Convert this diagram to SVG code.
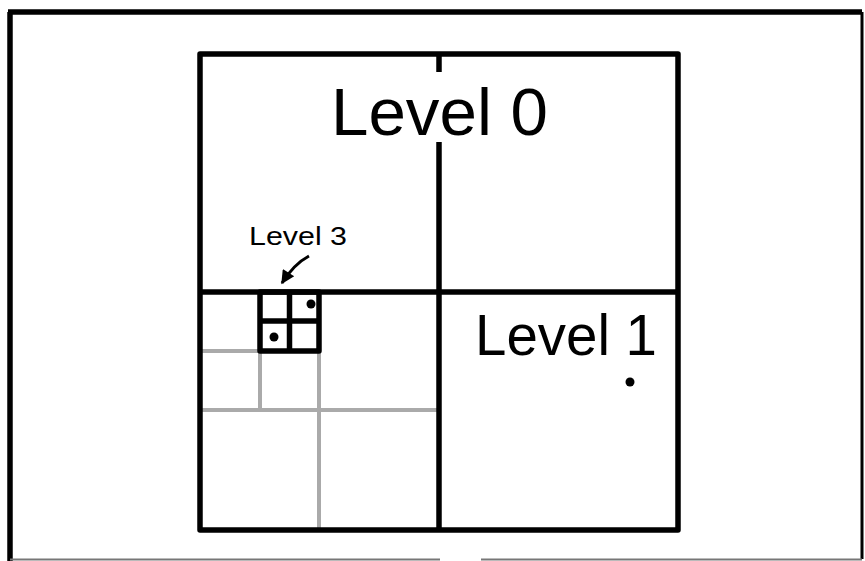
<svg xmlns="http://www.w3.org/2000/svg" width="865" height="561" viewBox="0 0 865 561">
<style>
.blk{fill:none;stroke:#000;stroke-width:5.5;stroke-linejoin:round;stroke-linecap:butt}
.gry{fill:none;stroke:#aaa;stroke-width:4}
.lbl{font-family:"Liberation Sans","DejaVu Sans",sans-serif;fill:#000}
.dot{fill:#000}
</style>
<defs>
<marker id="ah" viewBox="0 0 10 10" refX="9" refY="5" markerWidth="5.5" markerHeight="4.5" orient="auto" markerUnits="strokeWidth">
<path d="M0,0 L10,5 L0,10 z" fill="#000"/>
</marker>
</defs>
<rect width="865" height="561" fill="#fff"/>
<g id="frame">
<line x1="8" y1="12" x2="862" y2="12" stroke="#000" stroke-width="5.5"/>
<line x1="10" y1="12" x2="10" y2="561" stroke="#000" stroke-width="5.5"/>
<line x1="862" y1="12" x2="862" y2="559" stroke="#000" stroke-width="3"/>
<line x1="10" y1="559.5" x2="440" y2="559.5" stroke="#777" stroke-width="2"/>
<line x1="481" y1="559.5" x2="862" y2="559.5" stroke="#777" stroke-width="2"/>
</g>
<g id="grey-grid">
<line class="gry" x1="202" y1="351" x2="260" y2="351"/>
<line class="gry" x1="260" y1="351" x2="260" y2="410"/>
<line class="gry" x1="319" y1="351" x2="319" y2="528"/>
<line class="gry" x1="202" y1="410" x2="439" y2="410"/>
</g>
<g id="level0">
<rect class="blk" x="200" y="54" width="478" height="476"/>
<line class="blk" x1="439" y1="54" x2="439" y2="72"/>
<line class="blk" x1="439" y1="142" x2="439" y2="530"/>
<line class="blk" x1="200" y1="292" x2="678" y2="292"/>
<text class="lbl" x="331" y="135" font-size="66" textLength="217" lengthAdjust="spacingAndGlyphs">Level 0</text>
</g>
<g id="level1">
<text class="lbl" x="475" y="355" font-size="58" textLength="182" lengthAdjust="spacingAndGlyphs">Level 1</text>
<circle class="dot" cx="630" cy="382" r="4.5"/>
</g>
<g id="level3">
<rect class="blk" x="260" y="292" width="59" height="59"/>
<line class="blk" x1="289.5" y1="292" x2="289.5" y2="351"/>
<line class="blk" x1="260" y1="321" x2="319" y2="321"/>
<circle class="dot" cx="311" cy="304" r="4.5"/>
<circle class="dot" cx="274" cy="337" r="4.5"/>
<text class="lbl" x="249" y="245" font-size="26" textLength="98" lengthAdjust="spacingAndGlyphs">Level 3</text>
</g>
<g id="connectors">
<path d="M309,256 Q294,264 282,283" fill="none" stroke="#000" stroke-width="3" marker-end="url(#ah)"/>
</g>
</svg>
